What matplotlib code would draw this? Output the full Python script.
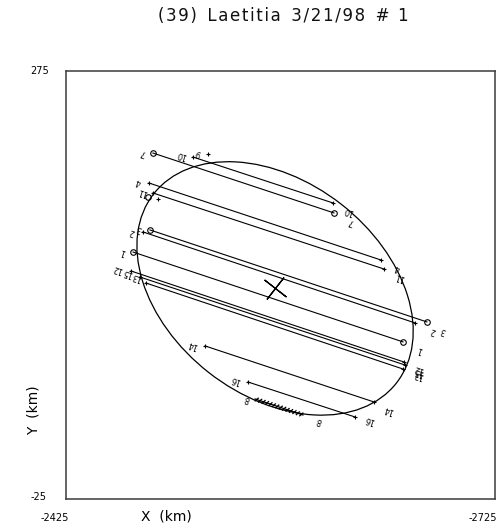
import matplotlib
matplotlib.use("Agg")
import matplotlib.pyplot as plt
import matplotlib.patheffects as pe
from matplotlib.patches import Ellipse
import numpy as np

# ---------------- data (km) ----------------
title = "(39) Laetitia 3/21/98 #1"
x_range = [-2425, -2725]
y_range = [-25, 275]

chord_ids = ['7', '10', '4', '11', '2', '3', '1', '12', '15', '13', '14', '16', '8']
x_start = [-2485.8, -2513.8, -2483.0, -2485.8, -2483.7, -2478.8, -2471.9,
           -2470.5, -2476.7, -2480.9, -2522.2, -2552.3, -2557.2]
y_start = [217.5, 214.7, 196.5, 189.5, 163.6, 162.2, 148.1,
           134.8, 130.6, 126.4, 82.3, 57.0, 45.1]
x_end = [-2612.4, -2611.7, -2645.3, -2647.4, -2677.4, -2669.1, -2660.7,
         -2661.4, -2662.1, -2660.7, -2640.4, -2627.1, -2590.7]
y_end = [175.5, 182.5, 142.5, 136.2, 99.1, 98.4, 85.1,
         71.0, 68.9, 66.1, 43.0, 32.5, 33.9]
end_kind = ['o', '+', '+', '+', 'o', '+', 'o', '+', '+', '+', '+', '+', 'tick']

# isolated single-event points
pt_ids = ['9', '', '']
pt_x = [-2524.3, -2482.3, -2489.3]
pt_y = [216.8, 186.7, 185.3]
pt_kind = ['+', 'o', '+']

# fitted profile (ellipse)
ell_center = (-2571.2, 122.6)
ell_a = 107.7
ell_b = 75.0
ell_angle = 38.0

# ---------------- layout ----------------
W, H = 499, 526
fig = plt.figure(figsize=(W / 100, H / 100), dpi=100)
ax = fig.add_axes([66 / W, 1 - 499 / H, 429 / W, 428 / H])
ax.set_xlim(x_range[0], x_range[1])
ax.set_ylim(y_range[0], y_range[1])
ax.set_xticks([])
ax.set_yticks([])
for s in ax.spines.values():
    s.set_linewidth(1.1)
    s.set_color('#3a3a3a')

# label offsets in pixels (left label, right label)
lab_off = {
    '7': ((-10, 0), (17, -9)),
    '10': ((-11, 2), (16, -8)),
    '4': ((-10, 1), (16, -8)),
    '11': ((-10, 1), (16, -8)),
    '2': ((-18, -2), (6, -9)),
    '3': ((-4, 3), (28, -8)),
    '1': ((-10, 0), (17, -8)),
    '12': ((-14, 2), (15, -7)),
    '15': ((-12, 4), (14, -7)),
    '13': ((-9, 6), (16, -6)),
    '14': ((-12, 1), (15, -8)),
    '16': ((-12, 2), (15, -3)),
    '8': ((-8, 0), (16, -6)),
}
rot = 161.6
lab_fs = 5.8

for i, cid in enumerate(chord_ids):
    xs = [x_start[i], x_end[i]]
    ys = [y_start[i], y_end[i]]
    k = end_kind[i]
    if k == 'tick':
        ax.plot(xs, ys, color='black', lw=0.9,
                path_effects=[pe.Normal(),
                              pe.TickedStroke(spacing=2.5, angle=60, length=0.6),
                              pe.TickedStroke(spacing=2.5, angle=-120, length=0.6)])
    else:
        ax.plot(xs, ys, color='black', lw=0.8)
        if k == 'o':
            ax.plot(xs, ys, ls='none', marker='o', ms=4, mfc='none', mec='black', mew=0.8)
        else:
            ax.plot(xs, ys, ls='none', marker='+', ms=3.5, mec='black', mew=0.8)
    (lx, ly), (rx, ry) = lab_off[cid]
    ax.annotate(cid, (x_start[i], y_start[i]), xytext=(lx, ly), textcoords='offset pixels',
                ha='center', va='center', fontsize=lab_fs, rotation=rot)
    ax.annotate(cid, (x_end[i], y_end[i]), xytext=(rx, ry), textcoords='offset pixels',
                ha='center', va='center', fontsize=lab_fs, rotation=rot)

for i, pid in enumerate(pt_ids):
    if pt_kind[i] == 'o':
        ax.plot(pt_x[i], pt_y[i], marker='o', ms=4, mfc='none', mec='black', mew=0.8)
    else:
        ax.plot(pt_x[i], pt_y[i], marker='+', ms=3.5, mec='black', mew=0.8)
    if pid:
        ax.annotate(pid, (pt_x[i], pt_y[i]), xytext=(-10, 1), textcoords='offset pixels',
                    ha='center', va='center', fontsize=lab_fs, rotation=rot)

ell = Ellipse(ell_center, 2 * ell_a, 2 * ell_b, angle=ell_angle,
              fill=False, edgecolor='black', lw=0.9)
ax.add_patch(ell)
ax.plot(ell_center[0], ell_center[1], ls='none', marker=(4, 2, -ell_angle),
        ms=20, mec='black', mew=0.9)

# ---------------- texts ----------------
def ftext(px, py, s, **kw):
    fig.text(px / W, 1 - py / H, s, ha='center', va='center', **kw)

def spaced(s):
    # wide, plotter-style lettering: hair space between letters, wider word gaps
    words = s.split(' ')
    words = [w if w != '#1' else '# 1' for w in words]
    return '  '.join('\u200a'.join(w) for w in words)

ftext(283, 16, spaced(title), fontsize=12, color='#111111')
ftext(40, 71, f"{y_range[1]}", fontsize=7)
ftext(39, 497, f"{y_range[0]}", fontsize=7)
ftext(55, 518, f"{x_range[0]}", fontsize=7)
ftext(483, 518, f"{x_range[1]}", fontsize=7)
ftext(166, 516, "X  (km)", fontsize=10)
ftext(34, 410, "Y  (km)", fontsize=10, rotation=90)

fig.savefig("out.png", dpi=100)
